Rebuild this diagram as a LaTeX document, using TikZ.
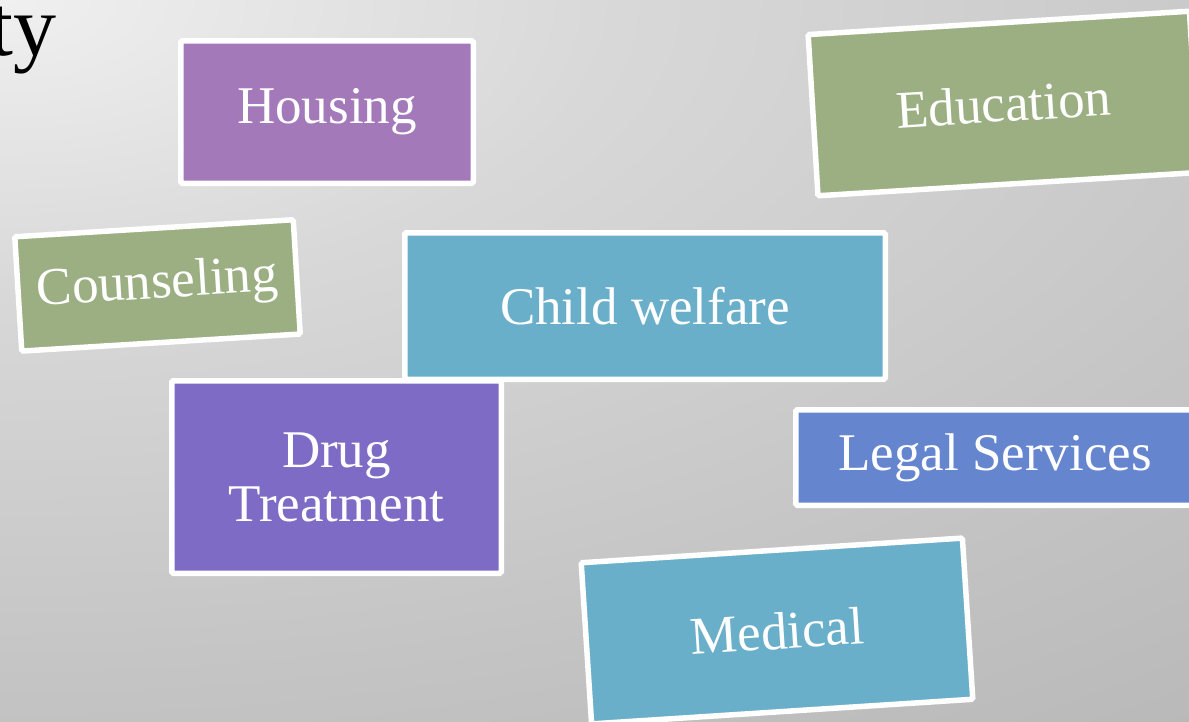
\documentclass[tikz,border=0pt]{standalone}
\usepackage{fontspec}
\setmainfont{Liberation Serif}

% backdrop greys
\definecolor{bgA}{HTML}{F0F0F0}
\definecolor{bgB}{HTML}{D8D8D8}
\definecolor{bgC}{HTML}{C4C4C4}
\definecolor{bgD}{HTML}{B9B9B9}
% tile fills
\definecolor{housingc}{HTML}{A379BA}
\definecolor{greenc}{HTML}{9BAF83}
\definecolor{tealc}{HTML}{6AAFC9}
\definecolor{drugc}{HTML}{7E6BC6}
\definecolor{legalc}{HTML}{6585CF}

\pgfdeclareradialshading{backdrop}{\pgfpoint{0bp}{0bp}}{%
  color(0bp)=(bgA); color(8bp)=(bgB); color(18.5bp)=(bgC);
  color(25bp)=(bgD); color(50bp)=(bgD)}

\newcommand\tilefont{\fontsize{53}{54}\selectfont}

\tikzset{
  tile/.style={draw=white, line width=5.5pt, rounded corners=1.5pt,
    inner sep=0pt, text=white, font=\tilefont, align=center},
}

\begin{document}
\begin{tikzpicture}[x=1pt, y=-1pt]
\useasboundingbox (0,0) rectangle (1189,721);

% soft grey backdrop, lightest at the top left corner
\begin{scope}
  \clip (0,0) rectangle (1189,721);
  \shade[shading=backdrop] (-1934,-921) rectangle (1934,921);
\end{scope}

% tail of the slide title
\node[font=\fontsize{86}{90}\selectfont, anchor=base east, inner sep=0pt]
  (title) at (57,55) {ty};

% service tiles
\node[tile, fill=housingc, minimum width=292.5pt, minimum height=142.5pt]
  (housing) at (327,112) {Housing};
\node[tile, fill=greenc, minimum width=382pt, minimum height=161.5pt, rotate=3.5]
  (education) at (1003.7,103.5) {Education};
\node[tile, fill=greenc, minimum width=279pt, minimum height=114.5pt, rotate=3.5]
  (counseling) at (157.5,285.4) {Counseling};
\node[tile, fill=tealc, minimum width=480.5pt, minimum height=146.5pt]
  (child) at (645,306) {Child welfare};
\node[tile, fill=drugc, minimum width=329.5pt, minimum height=192.5pt]
  (drug) at (336.5,477) {Drug\\Treatment};
\node[tile, fill=legalc, minimum width=398.5pt, minimum height=95.5pt]
  (legal) at (995,457.5) {Legal Services};
\node[tile, fill=tealc, minimum width=382pt, minimum height=161.5pt, rotate=3.7]
  (medical) at (777,631) {Medical};
\end{tikzpicture}
\end{document}
